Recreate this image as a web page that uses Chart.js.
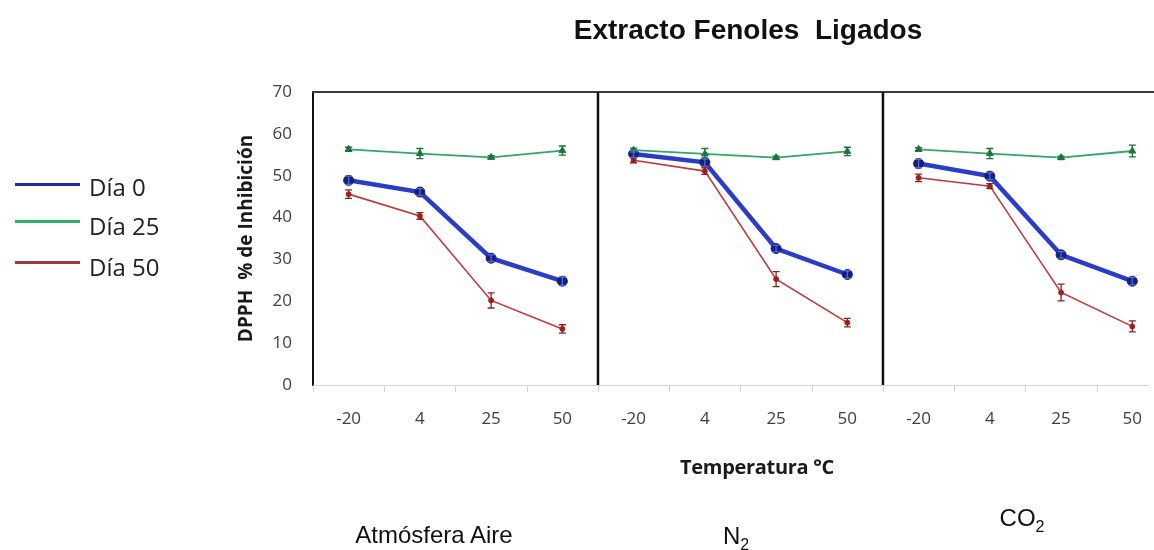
<!DOCTYPE html>
<html>
<head>
<meta charset="utf-8">
<script src="https://cdn.jsdelivr.net/npm/chart.js@4.4.1/dist/chart.umd.min.js"></script>
<style>
  html, body { margin: 0; padding: 0; background: #fff; }
  #wrap { position: relative; width: 1154px; height: 550px; overflow: hidden; }
  canvas { position: absolute; left: 0; top: 0; }
  .lbl { position: absolute; white-space: nowrap; transform: translate(-50%, -50%); color: #111; }
  #title { left: 748px; top: 30px; font: bold 28px "Liberation Sans", Arial, sans-serif; }
  #xtitle { left: 757px; top: 466px; font: bold 20px "Open Sans", sans-serif; color: #1a1a1a; letter-spacing: -0.3px; }
  .atm { font: 24px "Liberation Sans Narrow", "Liberation Sans", sans-serif; color: #111; }
  .atm sub { font-size: 16px; vertical-align: -6px; }
  .leg { position: absolute; left: 15px; width: 65px; height: 3px; }
  .legt { position: absolute; left: 89px; font: 24px "Open Sans", sans-serif; color: #222; transform: translateY(-50%); }
</style>
</head>
<body>
<div id="wrap">
  <canvas id="c" width="1154" height="550"></canvas>
  <div class="lbl" id="title">Extracto Fenoles&nbsp; Ligados</div>
  <div class="lbl" id="xtitle">Temperatura °C</div>
  <div class="lbl atm" style="left:434px; top:535px;">Atmósfera Aire</div>
  <div class="lbl atm" style="left:736px; top:538px;">N<sub>2</sub></div>
  <div class="lbl atm" style="left:1022px; top:520px;">CO<sub>2</sub></div>
  <div class="leg" style="top:183px; background:#232a9c;"></div>
  <div class="legt" style="top:186px;">Día 0</div>
  <div class="leg" style="top:220px; background:#2ab06a;"></div>
  <div class="legt" style="top:225px;">Día 25</div>
  <div class="leg" style="top:261px; background:#9c3a40;"></div>
  <div class="legt" style="top:266px;">Día 50</div>
</div>
<script>
// ---- data ----
const temperatures = ['-20', '4', '25', '50'];
const atmospheres = ['Atmósfera Aire', 'N2', 'CO2'];
const seriesNames = ['Día 0', 'Día 25', 'Día 50'];
// values: Aire (4), N2 (4), CO2 (4)
const dia0  = [48.9, 46.1, 30.3, 24.8,   55.2, 53.2, 32.6, 26.4,   52.9, 49.9, 31.1, 24.8];
const dia25 = [56.3, 55.3, 54.4, 56.0,   56.1, 55.2, 54.3, 55.8,   56.3, 55.3, 54.3, 55.9];
const dia50 = [45.6, 40.4, 20.2, 13.4,   53.7, 51.1, 25.3, 14.9,   49.5, 47.5, 22.1, 14.0];
const err0  = [1.0, 0.8, 0.8, 1.0,   0.8, 1.0, 0.8, 0.9,   1.0, 0.8, 0.8, 0.9];
const err25 = [0.5, 1.2, 0.4, 1.1,   0.5, 1.3, 0.4, 1.0,   0.4, 1.2, 0.4, 1.4];
const err50 = [1.0, 0.8, 1.8, 1.0,   0.6, 0.8, 1.8, 1.0,   0.9, 0.6, 2.0, 1.3];

function buildData(vals) {
  const out = [];
  for (let p = 0; p < atmospheres.length; p++) {
    for (let i = 0; i < temperatures.length; i++) {
      const k = p * temperatures.length + i;
      out.push({ x: k, y: vals[k] });
    }
    if (p < atmospheres.length - 1) out.push({ x: (p + 1) * temperatures.length - 0.5, y: null });
  }
  return out;
}

const errorBars = {
  id: 'errorBars',
  afterDatasetsDraw(chart) {
    const ctx = chart.ctx, ys = chart.scales.y, xs = chart.scales.x;
    chart.data.datasets.forEach(ds => {
      ctx.save();
      ctx.strokeStyle = ds.errColor;
      ctx.lineWidth = 1.3;
      ds.errors.forEach((e, k) => {
        const v = ds.values[k];
        const px = xs.getPixelForValue(k);
        const y1 = ys.getPixelForValue(v - e), y2 = ys.getPixelForValue(v + e);
        ctx.beginPath();
        ctx.moveTo(px, y1); ctx.lineTo(px, y2);
        ctx.moveTo(px - 3.5, y1); ctx.lineTo(px + 3.5, y1);
        ctx.moveTo(px - 3.5, y2); ctx.lineTo(px + 3.5, y2);
        ctx.stroke();
      });
      ctx.restore();
    });
  },
  afterDraw(chart) {
    const ctx = chart.ctx, xs = chart.scales.x, a = chart.chartArea;
    ctx.save();
    // top frame line
    ctx.strokeStyle = '#3a3a3a';
    ctx.lineWidth = 2;
    ctx.beginPath();
    ctx.moveTo(a.left - 1, a.top); ctx.lineTo(chart.width, a.top);
    ctx.stroke();
    // tick marks at category boundaries
    ctx.strokeStyle = '#d4d4d4';
    ctx.lineWidth = 1;
    const n = atmospheres.length * temperatures.length;
    for (let k = 0; k <= n; k++) {
      const px = Math.round(xs.getPixelForValue(k - 0.5)) + 0.5;
      if (px > a.right) break;
      ctx.beginPath();
      ctx.moveTo(px, a.bottom); ctx.lineTo(px, a.bottom + 7);
      ctx.stroke();
    }
    // panel dividers
    ctx.strokeStyle = '#111';
    ctx.lineWidth = 2.5;
    for (let p = 1; p < atmospheres.length; p++) {
      const px = xs.getPixelForValue(p * temperatures.length - 0.5);
      ctx.beginPath();
      ctx.moveTo(px, a.top); ctx.lineTo(px, a.bottom);
      ctx.stroke();
    }
    ctx.restore();
  }
};

new Chart(document.getElementById('c'), {
  type: 'line',
  data: {
    datasets: [
      {
        label: seriesNames[1], data: buildData(dia25), values: dia25, errors: err25,
        borderColor: '#33a865', borderWidth: 1.8, errColor: '#1f6e3f',
        pointStyle: 'triangle', pointRadius: 4, pointBackgroundColor: '#1d7a44', pointBorderColor: '#1d7a44', pointBorderWidth: 1
      },
      {
        label: seriesNames[2], data: buildData(dia50), values: dia50, errors: err50,
        borderColor: '#c0393b', borderWidth: 1.6, errColor: '#8a2020',
        pointStyle: 'circle', pointRadius: 2.5, pointBackgroundColor: '#a82222', pointBorderColor: '#a82222', pointBorderWidth: 1
      },
      {
        label: seriesNames[0], data: buildData(dia0), values: dia0, errors: err0,
        borderColor: '#2a3cc8', borderWidth: 4.5, errColor: '#5566dd',
        pointStyle: 'circle', pointRadius: 5, pointBackgroundColor: '#14207e', pointBorderColor: '#14207e', pointBorderWidth: 1
      }
    ]
  },
  options: {
    responsive: false,
    animation: false,
    spanGaps: false,
    layout: { padding: { left: 225, top: 92, right: 0, bottom: 0 } },
    plugins: { legend: { display: false }, tooltip: { enabled: false } },
    elements: { line: { tension: 0 } },
    scales: {
      x: {
        type: 'linear',
        min: -0.5,
        max: 11.22,
        grid: { display: false },
        border: { display: true, color: '#d4d4d4', width: 1 },
        afterBuildTicks: s => { s.ticks = Array.from({ length: atmospheres.length * temperatures.length }, (_, k) => ({ value: k })); },
        afterFit: s => { s.height = 165; s.paddingLeft = 0; s.paddingRight = 0; },
        ticks: {
          autoSkip: false, maxRotation: 0, padding: 16,
          color: '#404040',
          font: { family: 'Open Sans', size: 17 },
          callback: v => temperatures[v % temperatures.length]
        }
      },
      y: {
        min: 0, max: 70,
        afterFit: s => { s.width = 88; s.paddingTop = 0; s.paddingBottom = 0; },
        grid: { display: false, drawTicks: false },
        border: { display: true, color: '#111', width: 2 },
        ticks: { stepSize: 10, padding: 21, color: '#404040', font: { family: 'Open Sans', size: 17 } },
        title: {
          display: true, text: 'DPPH  % de Inhibición', color: '#1a1a1a',
          font: { family: 'Open Sans', size: 19, weight: 'bold' },
          padding: { top: 10, bottom: 0 }
        }
      }
    }
  },
  plugins: [errorBars]
});
</script>
</body>
</html>
